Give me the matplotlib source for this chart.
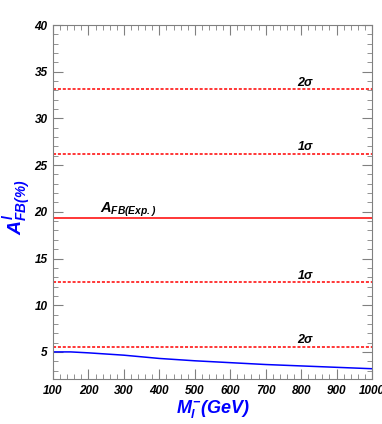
import numpy as np
import matplotlib.pyplot as plt
from matplotlib.ticker import MultipleLocator

plt.rcParams['font.family'] = ['Liberation Sans', 'DejaVu Sans']
plt.rcParams['mathtext.fontset'] = 'custom'
plt.rcParams['mathtext.rm'] = 'Liberation Sans:bold:italic'
plt.rcParams['mathtext.it'] = 'Liberation Sans:bold:italic'
plt.rcParams['mathtext.bf'] = 'Liberation Sans:bold:italic'

mass = [100, 150, 200, 300, 400, 500, 600, 700, 800, 900, 1000]
afb = [5.0, 5.0, 4.9, 4.65, 4.3, 4.05, 3.85, 3.65, 3.5, 3.35, 3.2]

afb_exp = 19.35
sig1 = [12.45, 26.2]
sig2 = [5.55, 33.1]

fig = plt.figure(figsize=(3.82, 4.24), dpi=100)
ax = fig.add_axes([53/382, 1 - 379/424, (372-53)/382, (379-25)/424])

ax.plot(mass, afb, color='blue', lw=1.1)
ax.axhline(afb_exp, color='red', lw=1.1)
for v in sig1 + sig2:
    ax.axhline(v, color='red', lw=1.1, ls=(0, (2, 1.2)))

tfont = dict(fontsize=9, fontweight='bold', style='italic')
ax.text(790, sig2[1] + 0.4, '2σ', **tfont)
ax.text(790, sig1[1] + 0.4, '1σ', **tfont)
ax.text(790, sig1[0] + 0.4, '1σ', **tfont)
ax.text(790, sig2[0] + 0.4, '2σ', **tfont)
ax.text(232, afb_exp + 0.6, r'$A_{FB(Exp.)}$', fontsize=10.5)

ax.set_xlim(100, 1000)
ax.set_ylim(2.1, 40)
ax.xaxis.set_major_locator(MultipleLocator(100))
ax.xaxis.set_minor_locator(MultipleLocator(20))
ax.yaxis.set_major_locator(MultipleLocator(5))
ax.yaxis.set_minor_locator(MultipleLocator(1))
ax.tick_params(which='both', direction='in', top=True, right=True, color='gray')
ax.tick_params(which='major', length=7, labelsize=8.5, pad=4)
ax.tick_params(which='minor', length=3.5)
for lab in ax.get_xticklabels() + ax.get_yticklabels():
    lab.set_fontweight('bold')
    lab.set_fontstyle('italic')
for s in ax.spines.values():
    s.set_color('gray')

ax.set_xlabel(r'$M_{l}^{-}$(GeV)', color='blue', fontsize=13,
              fontweight='bold', style='italic')
ax.xaxis.set_label_coords(0.5, -0.055)
ax.set_ylabel(r'$A^{l}_{FB(\%)}$', color='blue', fontsize=14)
ax.yaxis.set_label_coords(-0.06, 0.485)

fig.savefig('out.png', dpi=100)
